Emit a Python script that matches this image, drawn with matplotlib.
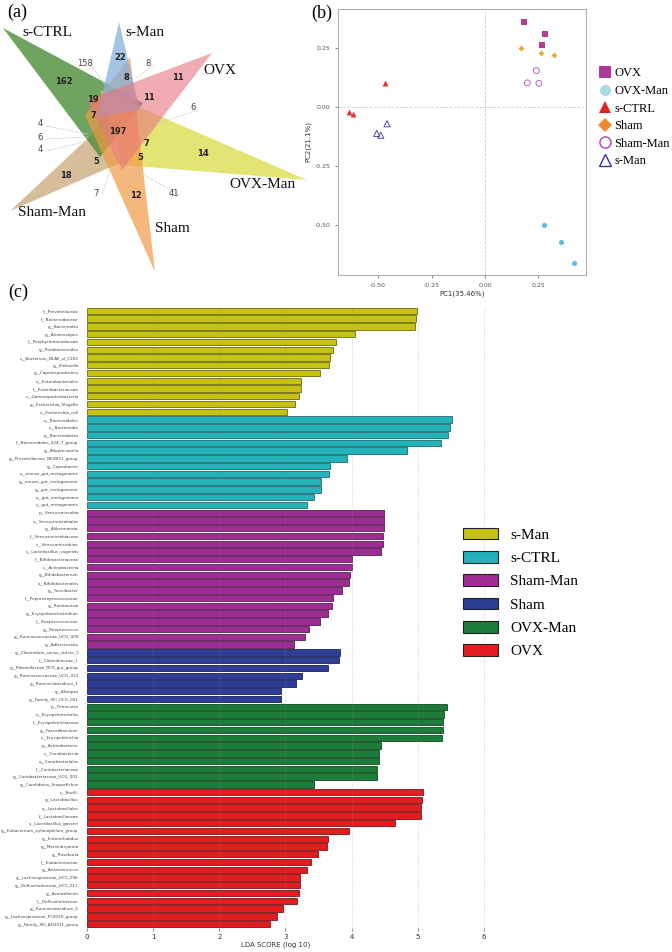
import matplotlib.pyplot as plt
from matplotlib.patches import Polygon, Patch
from matplotlib.lines import Line2D

# ---------------- data ----------------
# (a) flower Venn: petal groups and region counts
venn_groups = ["s-CTRL", "s-Man", "OVX", "OVX-Man", "Sham", "Sham-Man"]
venn_counts = [158, 22, 8, 8, 11, 162, 19, 11, 6, 7, 197,
               4, 6, 4, 7, 14, 5, 5, 18, 7, 12, 41]

# (b) PCA scores
pca_groups = ["OVX", "OVX-Man", "s-CTRL", "Sham", "Sham-Man", "s-Man"]
pc1 = {
    "OVX": [0.184, 0.280, 0.266],
    "OVX-Man": [0.277, 0.354, 0.417],
    "s-CTRL": [-0.469, -0.636, -0.618],
    "Sham": [0.167, 0.260, 0.321],
    "Sham-Man": [0.240, 0.198, 0.252],
    "s-Man": [-0.458, -0.506, -0.487],
}
pc2 = {
    "OVX": [0.361, 0.307, 0.263],
    "OVX-Man": [-0.501, -0.573, -0.662],
    "s-CTRL": [0.100, -0.020, -0.031],
    "Sham": [0.250, 0.229, 0.219],
    "Sham-Man": [0.154, 0.102, 0.100],
    "s-Man": [-0.071, -0.112, -0.120],
}

# (c) LEfSe LDA scores
lda_groups = ["s-Man", "s-CTRL", "Sham-Man", "Sham", "OVX-Man", "OVX"]
smanTaxa = ["f__Prevotellaceae", "f__Bacteroidaceae", "g__Bacteroides", "g__Anaerostipes",
            "f__Porphyromonadaceae", "g__Parabacteroides", "s__Bacterium_NLAE_zl_C202",
            "g__Klebsiella", "g__Caproiciproducens", "o__Enterobacteriales",
            "f__Enterobacteriaceae", "c__Gammaproteobacteria", "g__Escherichia_Shigella",
            "s__Escherichia_coli"]
smanLda = [4.99, 4.98, 4.96, 4.06, 3.77, 3.72, 3.67, 3.66, 3.53, 3.24, 3.23, 3.20, 3.14, 3.02]
sctrlTaxa = ["o__Bacteroidales", "c__Bacteroidia", "p__Bacteroidetes",
             "f__Bacteroidales_S24_7_group", "g__Alloprevotella",
             "g__Prevotellaceae_NK3B31_group", "g__Coprobacter", "s__mouse_gut_metagenome",
             "g__mouse_gut_metagenome", "g__gut_metagenome", "o__gut_metagenome",
             "s__gut_metagenome"]
sctrlLda = [5.52, 5.49, 5.46, 5.35, 4.84, 3.93, 3.67, 3.66, 3.54, 3.54, 3.43, 3.32]
shammanTaxa = ["p__Verrucomicrobia", "o__Verrucomicrobiales", "g__Akkermansia",
               "f__Verrucomicrobiaceae", "c__Verrucomicrobiae", "s__Lactobacillus_vaginalis",
               "f__Bifidobacteriaceae", "c__Actinobacteria", "g__Bifidobacterium",
               "o__Bifidobacteriales", "g__Turicibacter", "f__Peptostreptococcaceae",
               "g__Romboutsia", "g__Erysipelatoclostridium", "f__Streptococcaceae",
               "g__Streptococcus", "g__Ruminococcaceae_UCG_009", "g__Adlercreutzia"]
shammanLda = [4.49, 4.49, 4.49, 4.48, 4.47, 4.45, 4.01, 4.00, 3.98, 3.96, 3.86, 3.72,
              3.71, 3.64, 3.52, 3.35, 3.29, 3.13]
shamTaxa = ["g__Clostridium_sensu_stricto_1", "f__Clostridiaceae_1",
            "g__Rikenellaceae_RC9_gut_group", "g__Ruminococcaceae_UCG_013",
            "g__Ruminiclostridium_1", "g__Alistipes", "g__Family_XIII_UCG_001"]
shamLda = [3.83, 3.81, 3.65, 3.25, 3.16, 2.94, 2.93]
ovxmanTaxa = ["p__Firmicutes", "o__Erysipelotrichales", "f__Erysipelotrichaceae",
              "g__Faecalibaculum", "c__Erysipelotrichia", "p__Actinobacteria",
              "c__Coriobacteriia", "o__Coriobacteriales", "f__Coriobacteriaceae",
              "g__Coriobacteriaceae_UCG_002", "g__Candidatus_Stoquefichus"]
ovxmanLda = [5.44, 5.40, 5.39, 5.38, 5.37, 4.44, 4.42, 4.41, 4.39, 4.39, 3.44]
ovxTaxa = ["c__Bacilli", "g__Lactobacillus", "o__Lactobacillales", "f__Lactobacillaceae",
           "s__Lactobacillus_gasseri", "g__Eubacterium_xylanophilum_group",
           "g__Enterorhabdus", "g__Marvinbryantia", "g__Roseburia", "f__Eubacteriaceae",
           "g__Anaerotruncus", "g__Lachnospiraceae_UCG_006", "g__Defluviitaleaceae_UCG_011",
           "g__Acetatifactor", "f__Defluviitaleaceae", "g__Ruminiclostridium_6",
           "g__Lachnospiraceae_FCS020_group", "g__Family_XIII_AD3011_group"]
ovxLda = [5.08, 5.07, 5.05, 5.05, 4.66, 3.96, 3.64, 3.63, 3.49, 3.38, 3.33, 3.22, 3.22,
          3.20, 3.18, 2.97, 2.87, 2.77]

SERIF = ["Liberation Serif", "DejaVu Serif"]

fig = plt.figure(figsize=(6.72, 9.52), dpi=100)


def px_axes(x0, y0, w, h):
    """axes placed with pixel coords (top-left origin)"""
    return fig.add_axes([x0 / 672, 1 - (y0 + h) / 952, w / 672, h / 952])


# ---------------- (a) flower venn ----------------
axa = px_axes(0, 0, 340, 290)
axa.set_xlim(0, 340)
axa.set_ylim(290, 0)
axa.axis("off")

petals = {
    "Sham-Man": ([(10, 211), (100, 127), (120, 163)], "#c9a97c", 0.75),
    "s-CTRL": ([(3, 28), (143, 103), (100, 157)], "#4b8c38", 0.8),
    "OVX-Man": ([(307, 180), (100, 90), (123, 165)], "#d9d93a", 0.7),
    "Sham": ([(155, 272), (85, 115), (130, 57)], "#f19a45", 0.7),
    "s-Man": ([(119, 22), (97, 117), (140, 110)], "#86b0dd", 0.75),
    "OVX": ([(212, 53), (87, 100), (122, 170)], "#e8737f", 0.6),
}
for name, (pts, col, a) in petals.items():
    axa.add_patch(Polygon(pts, closed=True, facecolor=col, edgecolor="none", alpha=a))

count_pos = [(85, 63), (120, 57), (148, 63), (126, 77), (178, 77), (64, 82), (93, 99),
             (149, 97), (193, 108), (93, 116), (118, 132), (40, 124), (40, 137), (40, 149),
             (146, 144), (203, 154), (96, 162), (140, 157), (66, 175), (96, 193),
             (136, 195), (174, 193)]
outer = {0, 2, 8, 11, 12, 13, 19, 21}
leaders = {0: (105, 85), 2: (136, 78), 8: (155, 124), 11: (88, 134), 12: (88, 137),
           13: (88, 141), 19: (110, 170), 21: (128, 166)}
for i, (c, (x, y)) in enumerate(zip(venn_counts, count_pos)):
    if i in leaders:
        lx, ly = leaders[i]
        axa.plot([x + 6, lx], [y + 2, ly], color="#cccccc", lw=0.4, zorder=1)
    axa.text(x, y, str(c), ha="center", va="center", fontsize=6,
             fontweight="normal" if i in outer else "bold",
             color="#444444" if i in outer else "#222222", zorder=3)

label_pos = {"s-CTRL": (47, 32), "s-Man": (145, 32), "OVX": (220, 70),
             "OVX-Man": (263, 185), "Sham": (172, 229), "Sham-Man": (52, 212)}
for g in venn_groups:
    x, y = label_pos[g]
    axa.text(x, y, g, ha="center", va="center", fontsize=11, family=SERIF, color="#111111")
axa.text(17, 12, "(a)", ha="center", va="center", fontsize=13, family=SERIF)

# ---------------- (b) PCA ----------------
axb = px_axes(338, 9, 248, 266)
pca_style = {
    "OVX": dict(marker="s", color="#b53b92", fill=True, s=16),
    "OVX-Man": dict(marker="o", color="#5bbfe6", fill=True, s=14),
    "s-CTRL": dict(marker="^", color="#e03434", fill=True, s=18),
    "Sham": dict(marker="D", color="#e9a83a", fill=True, s=9),
    "Sham-Man": dict(marker="o", color="#b464bc", fill=False, s=18),
    "s-Man": dict(marker="^", color="#4b4ba8", fill=False, s=20),
}
for g in pca_groups:
    st = pca_style[g]
    if st["fill"]:
        axb.scatter(pc1[g], pc2[g], marker=st["marker"], s=st["s"], color=st["color"],
                    linewidths=0, zorder=3)
    else:
        axb.scatter(pc1[g], pc2[g], marker=st["marker"], s=st["s"], facecolors="none",
                    edgecolors=st["color"], linewidths=0.7, zorder=3)
axb.axvline(0, color="#cccccc", lw=0.6, ls="--", zorder=1)
axb.axhline(0, color="#cccccc", lw=0.6, ls="--", zorder=1)
axb.set_xlim(-0.687, 0.472)
axb.set_ylim(-0.712, 0.415)
axb.set_xticks([-0.5, -0.25, 0, 0.25])
axb.set_xticklabels(["-0.50", "-0.25", "0.00", "0.25"])
axb.set_yticks([0.25, 0, -0.25, -0.5])
axb.set_yticklabels(["0.25", "0.00", "-0.25", "-0.50"])
axb.tick_params(labelsize=4.5, colors="#555555", length=2, width=0.5)
for sp in axb.spines.values():
    sp.set_color("#aaaaaa")
    sp.set_linewidth(0.7)
axb.set_xlabel("PC1(35.46%)", fontsize=5, color="#333333", labelpad=2)
axb.set_ylabel("PC2(21.1%)", fontsize=5, color="#333333", labelpad=2)
fig.text(322 / 672, 1 - 13 / 952, "(b)", ha="center", va="center", fontsize=13, family=SERIF)

leg_b_colors = {"OVX": "#b0389a", "OVX-Man": "#a8dce2", "s-CTRL": "#e02424",
                "Sham": "#f08a30", "Sham-Man": "#b040b0", "s-Man": "#3434a0"}
handles_b = []
for g in pca_groups:
    st = pca_style[g]
    c = leg_b_colors[g]
    ms = 8 if st["marker"] != "D" else 7
    handles_b.append(Line2D([], [], ls="none", marker=st["marker"], markersize=ms,
                            markerfacecolor=c if st["fill"] else "none",
                            markeredgecolor=c, markeredgewidth=0 if st["fill"] else 1.0,
                            label=g))
fig.legend(handles=handles_b, loc="upper left", bbox_to_anchor=(591 / 672, 1 - 61 / 952),
           frameon=False, prop={"family": SERIF, "size": 9}, labelspacing=0.45,
           handletextpad=0.15, handlelength=1.2, borderpad=0)

# ---------------- (c) LDA bars ----------------
lda_taxa = [smanTaxa, sctrlTaxa, shammanTaxa, shamTaxa, ovxmanTaxa, ovxTaxa]
lda_vals = [smanLda, sctrlLda, shammanLda, shamLda, ovxmanLda, ovxLda]
lda_colors = ["#c6c212", "#24b3ba", "#9f2c93", "#2e3d96", "#1c7c39", "#e41c20"]
lda_edges = ["#6d6b10", "#1f6a70", "#5a1a55", "#1a2458", "#11491f", "#7a1416"]

axc = px_axes(87, 307, 410, 621)
names, vals, cols, eds = [], [], [], []
for t, v, c, e in zip(lda_taxa, lda_vals, lda_colors, lda_edges):
    names += t
    vals += v
    cols += [c] * len(v)
    eds += [e] * len(v)
ypos = list(range(len(vals)))
axc.barh(ypos, vals, height=0.82, color=cols, edgecolor=eds, linewidth=0.6, zorder=2)
axc.set_ylim(len(vals) - 0.5, -0.5)
axc.set_xlim(0, 6.2)
axc.set_yticks(ypos)
axc.set_yticklabels(names, fontsize=3.0, color="#444444")
axc.set_xticks(range(7))
axc.tick_params(axis="y", length=0, pad=6)
axc.tick_params(axis="x", length=2, width=0.4, labelsize=5, colors="#333333", pad=2)
for x in range(1, 7):
    axc.axvline(x, color="#888888", lw=0.5, ls=":", alpha=0.6, zorder=3)
for sp in axc.spines.values():
    sp.set_visible(False)
axc.set_xlabel("LDA SCORE (log 10)", fontsize=5, color="#333333")
axc.xaxis.set_label_coords(0.46, -0.022)
fig.text(8 / 672, 1 - 292 / 952, "(c)", ha="left", va="center", fontsize=13, family=SERIF)

handles_c = [Patch(facecolor=c, edgecolor="#222222", linewidth=0.8, label=g)
             for g, c in zip(lda_groups, lda_colors)]
fig.legend(handles=handles_c, loc="upper left", bbox_to_anchor=(455 / 672, 1 - 520 / 952),
           frameon=False, prop={"family": SERIF, "size": 11}, labelspacing=0.6,
           handlelength=2.3, handleheight=0.8, handletextpad=0.8, borderpad=0)

fig.savefig("out.png", dpi=100)
